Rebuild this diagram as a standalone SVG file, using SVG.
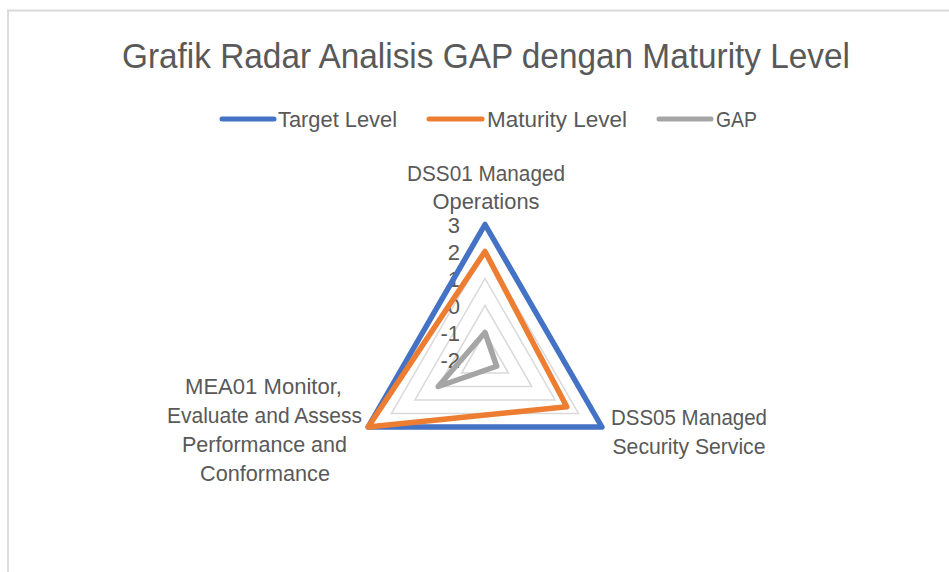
<svg xmlns="http://www.w3.org/2000/svg" width="949" height="572" viewBox="0 0 949 572">
  <style>
    text { font-family: "Liberation Sans", Arial, sans-serif; fill: #595959; }
    .title { font-size: 35px; }
    .lbl { font-size: 22px; }
    .num { font-size: 22px; }
    .grid { fill: none; stroke: #d9d9d9; stroke-width: 1.5; }
    .series { fill: none; stroke-width: 5.5; stroke-linejoin: round; }
    .leg { stroke-width: 5; stroke-linecap: round; }
  </style>
  <rect x="0" y="0" width="949" height="572" fill="#ffffff"/>
  <path d="M8 572 V10.5 H949" fill="none" stroke="#d9d9d9" stroke-width="1.8"/>

  <g id="title">
    <text class="title" x="486" y="68" text-anchor="middle" textLength="728" lengthAdjust="spacingAndGlyphs">Grafik Radar Analisis GAP dengan Maturity Level</text>
  </g>

  <g id="legend">
    <line class="leg" x1="222" y1="119" x2="274" y2="119" stroke="#4472c4"/>
    <text class="lbl" x="278" y="126.5" textLength="119" lengthAdjust="spacingAndGlyphs">Target Level</text>
    <line class="leg" x1="429" y1="119" x2="482" y2="119" stroke="#ed7d31"/>
    <text class="lbl" x="487" y="126.5" textLength="140" lengthAdjust="spacingAndGlyphs">Maturity Level</text>
    <line class="leg" x1="659" y1="119" x2="711" y2="119" stroke="#a5a5a5"/>
    <text class="lbl" x="716" y="126.5" textLength="41" lengthAdjust="spacingAndGlyphs">GAP</text>
  </g>

  <g id="gridlines">
    <polygon class="grid" points="485,332.5 508.4,373 461.6,373"/>
    <polygon class="grid" points="485,305.5 531.8,386.5 438.2,386.5"/>
    <polygon class="grid" points="485,278.5 555.1,400 414.9,400"/>
    <polygon class="grid" points="485,251.5 578.5,413.5 391.5,413.5"/>
    <polygon class="grid" points="485,224.5 601.9,427 368.1,427"/>
  </g>

  <g id="axis-labels">
    <text class="num" x="460" y="232.5" text-anchor="end">3</text>
    <text class="num" x="460" y="259.5" text-anchor="end">2</text>
    <text class="num" x="460" y="286.5" text-anchor="end">1</text>
    <text class="num" x="460" y="313.5" text-anchor="end">0</text>
    <text class="num" x="460" y="340.5" text-anchor="end">-1</text>
    <text class="num" x="460" y="367.5" text-anchor="end">-2</text>
  </g>

  <g id="series">
    <polygon id="target-level" class="series" stroke="#4472c4" points="485,224.5 601.9,427 368.1,427"/>
    <polygon id="maturity-level" class="series" stroke="#ed7d31" points="485,251.5 566.8,406.75 368.1,427"/>
    <polygon id="gap" class="series" stroke="#a5a5a5" points="485,332.5 496.7,366.25 438.2,386.5"/>
  </g>

  <g id="node-dss01">
    <text class="lbl" x="486" y="180.5" text-anchor="middle" textLength="158" lengthAdjust="spacingAndGlyphs">DSS01 Managed</text>
    <text class="lbl" x="486" y="209" text-anchor="middle" textLength="107" lengthAdjust="spacingAndGlyphs">Operations</text>
  </g>
  <g id="node-dss05">
    <text class="lbl" x="689" y="424.5" text-anchor="middle" textLength="156" lengthAdjust="spacingAndGlyphs">DSS05 Managed</text>
    <text class="lbl" x="689" y="453.5" text-anchor="middle" textLength="153" lengthAdjust="spacingAndGlyphs">Security Service</text>
  </g>
  <g id="node-mea01">
    <text class="lbl" x="263.5" y="393.5" text-anchor="middle" textLength="157" lengthAdjust="spacingAndGlyphs">MEA01 Monitor,</text>
    <text class="lbl" x="264.5" y="422.5" text-anchor="middle" textLength="195" lengthAdjust="spacingAndGlyphs">Evaluate and Assess</text>
    <text class="lbl" x="264.5" y="451.5" text-anchor="middle" textLength="165" lengthAdjust="spacingAndGlyphs">Performance and</text>
    <text class="lbl" x="265" y="481" text-anchor="middle" textLength="130" lengthAdjust="spacingAndGlyphs">Conformance</text>
  </g>
</svg>
